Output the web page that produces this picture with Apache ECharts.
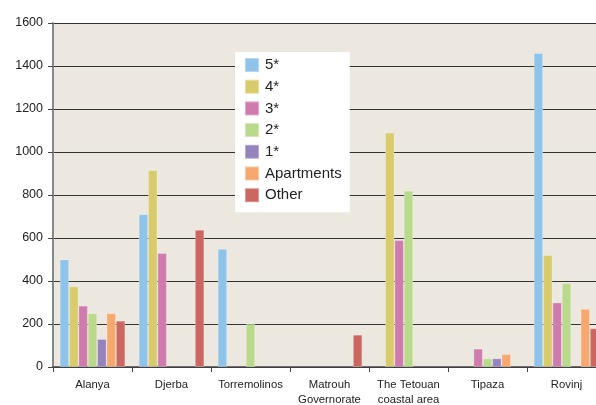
<!DOCTYPE html>
<html>
<head>
<meta charset="utf-8">
<script src="https://cdn.jsdelivr.net/npm/echarts@6/dist/echarts.min.js"></script>
<style>
  html, body { margin: 0; padding: 0; background: #ffffff; }
  #chart { width: 596px; height: 405px; }
</style>
</head>
<body>
<div id="chart"></div>
<script>
// Destinations along the x axis
const categories = ['Alanya', 'Djerba', 'Torremolinos', 'Matrouh\nGovernorate',
  'The Tetouan\ncoastal area', 'Tipaza', 'Rovinj'];

// Accommodation capacity by category (null = no value)
const star5      = [500, 710, 550, null, null, null, 1460];
const star4      = [375, 915, null, null, 1090, null, 520];
const star3      = [285, 530, null, null, 590, 85, 300];
const star2      = [250, null, 200, null, 820, 40, 390];
const star1      = [130, null, null, null, null, 40, null];
const apartments = [250, null, null, null, null, 60, 270];
const other      = [215, 638, null, 150, null, null, 180];

const yTicks = [0, 200, 400, 600, 800, 1000, 1200, 1400, 1600];

const seriesDefs = [
  { name: '5*', data: star5, color: '#8EC4E9' },
  { name: '4*', data: star4, color: '#D8CB6C' },
  { name: '3*', data: star3, color: '#CF7BAD' },
  { name: '2*', data: star2, color: '#BADA8B' },
  { name: '1*', data: star1, color: '#9583BD' },
  { name: 'Apartments', data: apartments, color: '#F7A86F' },
  { name: 'Other', data: other, color: '#CB6660' }
];

const chart = echarts.init(document.getElementById('chart'));
chart.setOption({
  animation: false,
  textStyle: { fontFamily: 'Liberation Sans, Arial, sans-serif' },
  grid: {
    left: 53, top: 23, width: 553, bottom: 38,
    outerBoundsMode: 'none',
    show: true, backgroundColor: '#ECE8DF', borderWidth: 0
  },
  legend: {
    orient: 'vertical',
    left: 235, top: 52,
    backgroundColor: '#ffffff',
    padding: [5, 8, 9, 9],
    itemWidth: 14, itemHeight: 14, itemGap: 5.7,
    icon: 'rect',
    textStyle: { fontSize: 15, color: '#222222', padding: [0, 0, 0, 1] },
    data: seriesDefs.map(s => s.name)
  },
  xAxis: {
    type: 'category',
    data: categories,
    axisLine: { lineStyle: { color: '#444444', width: 1.5 } },
    axisTick: { show: true, length: 5, alignWithLabel: false, lineStyle: { color: '#444444' } },
    axisLabel: { fontSize: 11.3, color: '#222222', margin: 10, lineHeight: 15, interval: 0 }
  },
  yAxis: {
    type: 'value',
    min: yTicks[0], max: yTicks[yTicks.length - 1], interval: 200,
    axisLine: { show: true, lineStyle: { color: '#888888', width: 2 } },
    axisTick: { show: true, length: 5, lineStyle: { color: '#444444' } },
    axisLabel: { fontSize: 12.5, color: '#222222', margin: 10, formatter: v => String(v) },
    splitLine: { lineStyle: { color: '#333333', width: 1 } }
  },
  series: seriesDefs.map(s => ({
    name: s.name,
    type: 'bar',
    data: s.data,
    barGap: '0%',
    barCategoryGap: '17%',
    itemStyle: { color: s.color, borderColor: 'rgba(255,255,255,0.35)', borderWidth: 0.8 }
  }))
});
</script>
</body>
</html>
